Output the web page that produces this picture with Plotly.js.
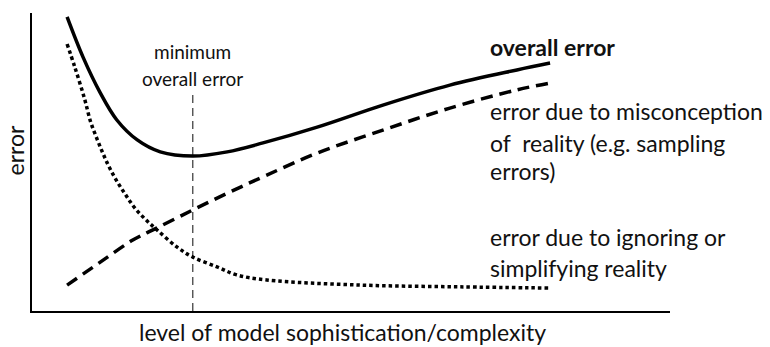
<!DOCTYPE html>
<html>
<head>
<meta charset="utf-8">
<script src="https://cdn.plot.ly/plotly-3.0.1.min.js"></script>
<style>
  html, body { margin: 0; padding: 0; background: #fff; }
  #chart { width: 770px; height: 347px; }
</style>
</head>
<body>
<div id="chart"></div>
<script>
// model complexity (0-100) against error (0-100)
var overallX = [5.5, 8.0, 10.7, 13.3, 16.5, 20.1, 25.2, 30.6, 36.2, 44.7, 55.0, 65.5, 76.0, 81.2];
var overallY = [98.7, 85.2, 73.2, 64.1, 57.4, 53.4, 52.0, 53.4, 56.4, 61.7, 69.1, 75.8, 80.9, 83.2];

var misconceptionX = [5.5, 10.7, 15.8, 19.6, 25.2, 31.0, 36.8, 44.7, 55.0, 65.5, 76.0, 81.2];
var misconceptionY = [8.7, 16.4, 23.8, 27.9, 33.9, 39.9, 45.6, 53.0, 60.7, 68.1, 74.2, 76.5];

var simplifyX = [5.5, 6.7, 8.2, 9.2, 10.2, 11.1, 12.1, 13.3, 14.7, 16.1, 17.9, 19.6, 22.7, 25.2, 29.0, 32.1, 36.8, 51.4, 67.1, 81.2];
var simplifyY = [89.6, 81.9, 71.5, 63.4, 57.7, 53.0, 48.3, 43.6, 38.9, 34.6, 30.5, 27.2, 21.5, 18.1, 14.8, 12.1, 10.4, 8.7, 8.1, 7.7];

var minimumX = [25.2, 25.2];
var minimumY = [0, 73.2];

var minimumLabel = ['minimum', 'overall error'];
var overallLabel = 'overall error';
var misconceptionLabel = ['error due to misconception', 'of  reality (e.g. sampling', 'errors)'];
var simplifyLabel = ['error due to ignoring or', 'simplifying reality'];
var xTitle = 'level of model sophistication/complexity';
var yTitle = 'error';

var font = 'Lato, "Open Sans", sans-serif';
var ink = '#111';

var overall = {
    x: overallX, y: overallY,
    mode: 'lines', type: 'scatter',
    line: { color: '#000', width: 3.5, shape: 'spline', smoothing: 1 }
};
var misconception = {
    x: misconceptionX, y: misconceptionY,
    mode: 'lines', type: 'scatter',
    line: { color: '#000', width: 3.5, shape: 'spline', smoothing: 1, dash: '12px,7px' }
};
var simplify = {
    x: simplifyX, y: simplifyY,
    mode: 'lines', type: 'scatter',
    line: { color: '#000', width: 3.5, shape: 'spline', smoothing: 1, dash: '3.5px,3px' }
};
var minimum = {
    x: minimumX, y: minimumY,
    mode: 'lines', type: 'scatter',
    line: { color: '#333', width: 1.2, dash: '8px,5px' }
};

function label(text, x, y, size, anchor, bold) {
    return {
        text: bold ? '<b>' + text + '</b>' : text,
        x: x, y: y, xref: 'x', yref: 'y',
        xanchor: anchor, yanchor: 'middle',
        showarrow: false,
        font: { family: font, size: size, color: ink }
    };
}

var annotations = [
    label(minimumLabel[0], 25.2, 87.0, 19, 'center'),
    label(minimumLabel[1], 25.2, 78.0, 19, 'center'),
    label(overallLabel, 71.5, 88.6, 23, 'left', true),
    label(misconceptionLabel[0], 71.5, 67.0, 23, 'left'),
    label(misconceptionLabel[1], 71.5, 56.3, 23, 'left'),
    label(misconceptionLabel[2], 71.5, 47.0, 23, 'left'),
    label(simplifyLabel[0], 71.5, 24.7, 23, 'left'),
    label(simplifyLabel[1], 71.5, 14.5, 23, 'left'),
    {
        text: xTitle, xref: 'paper', yref: 'paper', x: 0.487, y: -0.07,
        xanchor: 'center', yanchor: 'middle', showarrow: false,
        font: { family: font, size: 23, color: ink }
    },
    {
        text: yTitle, xref: 'paper', yref: 'paper', x: -0.026, y: 0.54,
        xanchor: 'center', yanchor: 'middle', textangle: -90, showarrow: false,
        font: { family: font, size: 23, color: ink }
    }
];

var layout = {
    width: 770, height: 347,
    margin: { l: 32, r: 100, t: 13, b: 36 },
    paper_bgcolor: '#fff', plot_bgcolor: '#fff',
    showlegend: false,
    xaxis: {
        range: [0, 100],
        showgrid: false, zeroline: false, showticklabels: false, ticks: '',
        showline: true, linecolor: '#000', linewidth: 2
    },
    yaxis: {
        range: [0, 100],
        showgrid: false, zeroline: false, showticklabels: false, ticks: '',
        showline: true, linecolor: '#000', linewidth: 2
    },
    annotations: annotations
};

Plotly.newPlot('chart', [minimum, simplify, misconception, overall], layout,
               { staticPlot: true, displayModeBar: false });
</script>
</body>
</html>
